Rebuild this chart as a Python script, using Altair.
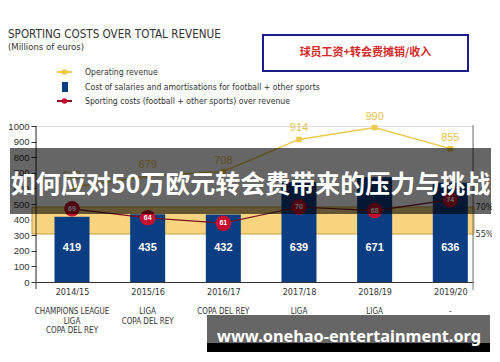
import json
import altair as alt
import pandas as pd

seasons = ["2014/15", "2015/16", "2016/17", "2017/18", "2018/19", "2019/20"]
revenue = [608, 679, 708, 914, 990, 855]
salaries = [419, 435, 432, 639, 671, 636]
ratio = [69, 64, 61, 70, 68, 74]
titles = ["CHAMPIONS LEAGUE\nLIGA\nCOPA DEL REY", "LIGA\nCOPA DEL REY", "COPA DEL REY",
          "LIGA\nCOPA DEL REY", "LIGA", "-"]
band_low, band_high = 55, 70
left_ticks = list(range(0, 1001, 100))
right_ticks = [55, 70]

df = pd.DataFrame({"i": list(range(len(seasons))), "season": seasons, "revenue": revenue,
                   "salaries": salaries, "ratio": ratio, "titles": titles})
band_df = pd.DataFrame({"lo": [band_low], "hi": [band_high]})
one = pd.DataFrame({"k": [0]})

W, H = 437, 156
NARROW = "Liberation Sans Narrow, DejaVu Sans Condensed, Arial Narrow, sans-serif"
SANS = "Liberation Sans, Arial, sans-serif"
CJK = "Noto Sans CJK SC"

xscale = alt.Scale(domain=[-0.476, 5.30], nice=False, zero=False, padding=0)
xaxis = alt.Axis(values=list(range(6)), labelExpr=json.dumps(seasons) + "[datum.value]",
                 ticks=False, domain=True, domainColor="#333", grid=False, title=None,
                 labelFont=NARROW, labelFontSize=9, labelColor="#333", labelPadding=5)
x_enc = alt.X("i:Q", scale=xscale, axis=xaxis)

lscale = alt.Scale(domain=[0, 1000], nice=False, zero=True, padding=0)
rscale = alt.Scale(domain=[28.333, 115], nice=False, zero=False, padding=0)
laxis = alt.Axis(orient="left", values=left_ticks, format="d", tickSize=5, tickColor="#333",
                 domain=False, grid=False, title=None, labelOverlap=False,
                 labelFont=SANS, labelFontSize=9.5, labelColor="#333", labelPadding=2)

# band group (right scale)
band = alt.Chart(band_df).mark_rect(fill="#f9d47f", stroke="#c99a45", strokeWidth=1).encode(
    x=alt.value(-4), x2=alt.value(W + 1),
    y=alt.Y("lo:Q", scale=rscale,
            axis=alt.Axis(orient="right", values=right_ticks, labelExpr="datum.value + '%'",
                          ticks=False, domain=False, grid=False, title=None, labelOverlap=False,
                          labelFont=NARROW, labelFontSize=9, labelColor="#333", labelPadding=2)),
    y2="hi:Q",
)

# left group
base = alt.Chart(df)
ly = alt.Y("salaries:Q", scale=lscale, axis=laxis)
rev_y = alt.Y("revenue:Q", scale=lscale, axis=laxis)
bars = base.mark_bar(size=35, color="#0b3d82").encode(x=x_enc, y=ly)
bar_lbl = base.mark_text(color="white", fontWeight="bold", fontSize=11, font=SANS).encode(
    x=x_enc, y=alt.datum(218, scale=lscale, axis=laxis), text="salaries:Q")
rev_line = base.mark_line(color="#ecc94b", strokeWidth=1.5).encode(x=x_enc, y=rev_y)
rev_pt = base.mark_square(size=30, color="#ecc94b", opacity=1).encode(x=x_enc, y=rev_y)
rev_lbl = base.mark_text(color="#e6c24a", fontSize=11, dy=-11, font=SANS).encode(
    x=x_enc, y=rev_y, text="revenue:Q")
left = alt.layer(bars, rev_line, rev_pt, rev_lbl, bar_lbl)

# red group (right scale)
ry = alt.Y("ratio:Q", scale=rscale, axis=None)
r_line = base.mark_line(color="#7a1020", strokeWidth=1.2).encode(x=x_enc, y=ry)
r_pt = base.mark_circle(size=240, color="#c8102e", opacity=1).encode(x=x_enc, y=ry)
r_lbl = base.mark_text(color="white", fontSize=7, fontWeight="bold", font=SANS).encode(
    x=x_enc, y=ry, text="ratio:Q")
comp = base.mark_text(font=NARROW, fontSize=8, color="#333", lineBreak="\n",
                      lineHeight=9.5, baseline="top").encode(
    x=x_enc, y=alt.value(182), text="titles:N")
red = alt.layer(r_line, r_pt, r_lbl, comp)

# decorations
d = alt.Chart(one)
LEG = 8.6
deco = [
    d.mark_rule(color="#333", strokeWidth=1).encode(x=alt.value(0), y=alt.value(0), y2=alt.value(163)),
    d.mark_rule(color="#777", strokeWidth=1).encode(x=alt.value(W), y=alt.value(-1), y2=alt.value(164)),
    d.mark_text(text="SPORTING COSTS OVER TOTAL REVENUE", font=NARROW, fontSize=11.6, color="#333",
                align="left", baseline="middle").encode(x=alt.value(-28), y=alt.value(-91)),
    d.mark_text(text="(Millions of euros)", font=NARROW, fontSize=9.5, color="#333",
                align="left", baseline="middle").encode(x=alt.value(-28), y=alt.value(-79)),
    d.mark_rule(color="#ecc94b", strokeWidth=2).encode(x=alt.value(21), x2=alt.value(36), y=alt.value(-54)),
    d.mark_square(color="#ecc94b", size=25, opacity=1).encode(x=alt.value(28.5), y=alt.value(-54)),
    d.mark_text(text="Operating revenue", font=NARROW, fontSize=LEG, color="#333",
                align="left", baseline="middle").encode(x=alt.value(49), y=alt.value(-54)),
    d.mark_rect(color="#0b3d82").encode(x=alt.value(26), x2=alt.value(32), y=alt.value(-44), y2=alt.value(-34)),
    d.mark_text(text="Cost of salaries and amortisations for football + other sports", font=NARROW,
                fontSize=LEG, color="#333", align="left", baseline="middle").encode(x=alt.value(49), y=alt.value(-39)),
    d.mark_rule(color="#8a1025", strokeWidth=2).encode(x=alt.value(21), x2=alt.value(36), y=alt.value(-25)),
    d.mark_circle(color="#c8102e", size=30, opacity=1).encode(x=alt.value(28.5), y=alt.value(-25)),
    d.mark_text(text="Sporting costs (football + other sports) over revenue", font=NARROW,
                fontSize=LEG, color="#333", align="left", baseline="middle").encode(x=alt.value(49), y=alt.value(-25)),
    d.mark_rect(fill="white", stroke="#1c1c8a", strokeWidth=2).encode(
        x=alt.value(227), x2=alt.value(432), y=alt.value(-91), y2=alt.value(-55)),
    d.mark_text(text="球员工资+转会费摊销/收入", font=CJK, fontSize=11, fontWeight="bold",
                color="#d42a2a").encode(x=alt.value(329.5), y=alt.value(-73)),
    d.mark_rect(color="black", opacity=0.6).encode(
        x=alt.value(-26), x2=alt.value(455), y=alt.value(22), y2=alt.value(88)),
    d.mark_text(text="如何应对50万欧元转会费带来的压力与挑战", font=CJK, fontSize=25, fontWeight="bold",
                color="white").encode(x=alt.value(214.5), y=alt.value(59)),
    d.mark_rect(color="#666666", opacity=1).encode(
        x=alt.value(171), x2=alt.value(454), y=alt.value(189), y2=alt.value(217)),
    d.mark_rect(color="black", opacity=1).encode(
        x=alt.value(171), x2=alt.value(454), y=alt.value(217), y2=alt.value(227)),
    d.mark_text(text="www.onehao-entertainment.org", font="Noto Sans, Open Sans, sans-serif", fontSize=16.3,
                fontWeight="bold", color="white", align="left", baseline="alphabetic").encode(
        x=alt.value(181), y=alt.value(216)),
]
decor = alt.layer(*deco)

chart = alt.layer(band, left, red, decor).resolve_scale(y="independent").properties(
    width=W, height=H,
    autosize=alt.AutoSizeParams(type="none"),
    padding={"left": 28, "top": 118, "right": 19, "bottom": 70},
).configure_view(stroke=None).configure(background="white")

chart.save("out.html", embed_options={"renderer": "svg", "actions": False})
